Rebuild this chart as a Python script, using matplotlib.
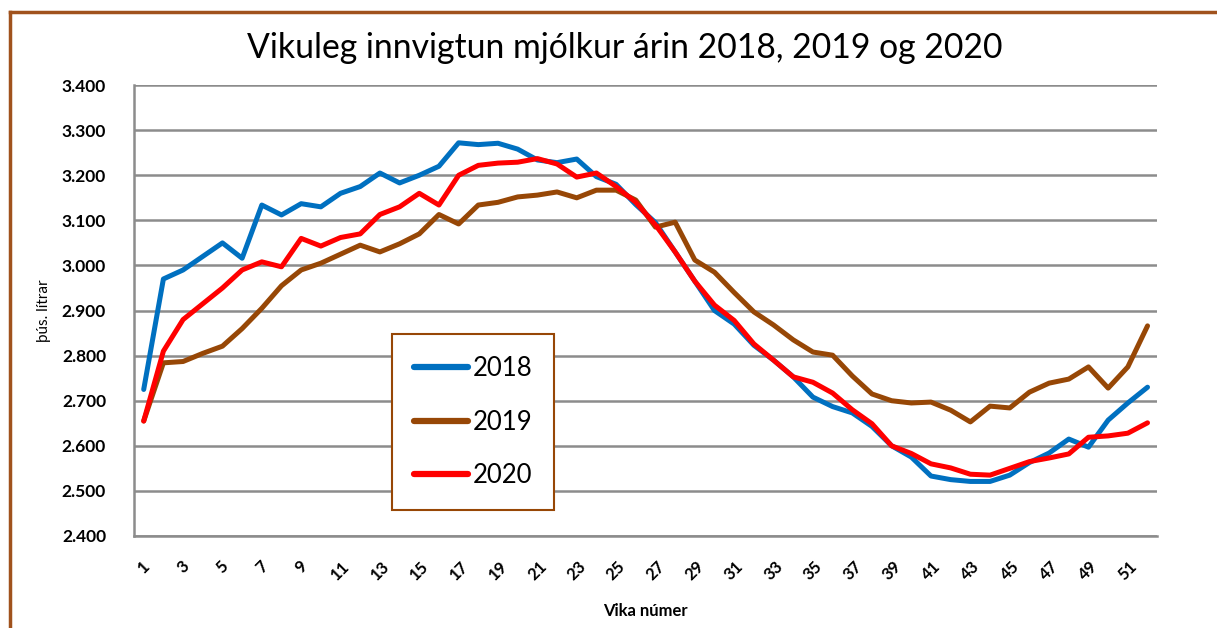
import numpy as np
import matplotlib
matplotlib.use("Agg")
import matplotlib.pyplot as plt
from matplotlib.ticker import FuncFormatter
from matplotlib.lines import Line2D

# Weekly milk intake (million litres)
weeks = list(range(1, 53))

intake_2018 = [2.725, 2.970, 2.990, 3.020, 3.050, 3.016, 3.134, 3.112, 3.137, 3.130,
               3.160, 3.175, 3.205, 3.183, 3.200, 3.220, 3.272, 3.268, 3.271, 3.258,
               3.234, 3.228, 3.236, 3.197, 3.180, 3.135, 3.095, 3.030, 2.965, 2.900,
               2.870, 2.823, 2.790, 2.753, 2.708, 2.687, 2.673, 2.643, 2.600, 2.575,
               2.533, 2.525, 2.521, 2.521, 2.535, 2.563, 2.584, 2.615, 2.597, 2.657,
               2.695, 2.730]

intake_2019 = [2.655, 2.784, 2.787, 2.805, 2.821, 2.860, 2.905, 2.955, 2.990, 3.005,
               3.025, 3.045, 3.030, 3.048, 3.070, 3.113, 3.092, 3.134, 3.140, 3.152,
               3.156, 3.163, 3.150, 3.167, 3.167, 3.145, 3.085, 3.096, 3.012, 2.985,
               2.940, 2.897, 2.868, 2.835, 2.808, 2.801, 2.755, 2.715, 2.700, 2.695,
               2.697, 2.679, 2.653, 2.688, 2.684, 2.719, 2.739, 2.748, 2.775, 2.728,
               2.775, 2.866]

intake_2020 = [2.655, 2.810, 2.880, 2.915, 2.950, 2.990, 3.008, 2.997, 3.060, 3.043,
               3.062, 3.070, 3.113, 3.130, 3.160, 3.134, 3.200, 3.222, 3.227, 3.229,
               3.237, 3.225, 3.196, 3.205, 3.175, 3.140, 3.090, 3.030, 2.965, 2.912,
               2.878, 2.826, 2.790, 2.753, 2.741, 2.717, 2.680, 2.649, 2.600, 2.583,
               2.560, 2.551, 2.537, 2.535, 2.550, 2.565, 2.573, 2.582, 2.619, 2.622,
               2.628, 2.651]

series_labels = ["2018", "2019", "2020"]
series_colors = ["#0070C0", "#974706", "#FF0000"]
y_ticks = [2.4, 2.5, 2.6, 2.7, 2.8, 2.9, 3.0, 3.1, 3.2, 3.3, 3.4]
x_ticks = list(range(1, 53, 2))

plt.rcParams["font.family"] = ["Lato", "DejaVu Sans"]

fig = plt.figure(figsize=(12.17, 6.28), dpi=100)
ax = fig.add_axes([0.110, 0.1465, 0.841, 0.718])

# Plotting the three years
for vals, lab, col in zip([intake_2018, intake_2019, intake_2020], series_labels, series_colors):
    ax.plot(weeks, vals, color=col, lw=3.6, label=lab,
            solid_joinstyle="round", solid_capstyle="round", zorder=3)

# Axis limits, grid and ticks
ax.set_xlim(0.5, 52.5)
ax.set_ylim(2.4, 3.4)
ax.set_yticks(y_ticks)
ax.yaxis.set_major_formatter(FuncFormatter(lambda v, p: f"{v:.3f}"))
ax.set_xticks(x_ticks)
ax.set_xticklabels([str(w) for w in x_ticks], rotation=45, ha="center", va="top",
                   fontsize=12, fontweight="bold")
ax.tick_params(axis="y", labelsize=12.5, length=0, pad=20)
ax.tick_params(axis="x", length=0, pad=16)
for lbl in ax.get_yticklabels():
    lbl.set_fontweight("bold")
ax.grid(axis="y", color="#8C8C8C", lw=1.8, zorder=1)
for s in ["top", "right"]:
    ax.spines[s].set_visible(False)
for s in ["left", "bottom"]:
    ax.spines[s].set_color("#8C8C8C")
    ax.spines[s].set_linewidth(1.8)

# Axis labels and title
ax.set_xlabel("Vika númer", fontsize=12, fontweight="bold", labelpad=14)
ax.set_ylabel("þús. lítrar", fontsize=11, labelpad=8)
fig.text(0.513, 0.924, "Vikuleg innvigtun mjólkur árin 2018, 2019 og 2020",
         ha="center", va="center", fontsize=24.3)

# Legend box
leg = ax.legend(loc="upper left", bbox_to_anchor=(0.252, 0.448), fontsize=18.5,
                handlelength=2.1, labelspacing=1.12, borderpad=0.85,
                handletextpad=0.2, fancybox=False, framealpha=1, borderaxespad=0)
leg.get_frame().set_edgecolor("#974706")
leg.get_frame().set_linewidth(1.5)
for h in leg.get_lines():
    h.set_linewidth(4.5)

# Outer chart frame (left and top edges)
frame_col = "#A0521D"
fig.add_artist(Line2D([0.0082, 0.0082], [0, 0.981], color=frame_col, lw=2.5, transform=fig.transFigure))
fig.add_artist(Line2D([0.0082, 1.0], [0.981, 0.981], color=frame_col, lw=2.5, transform=fig.transFigure))

fig.savefig("out.png", dpi=100)
